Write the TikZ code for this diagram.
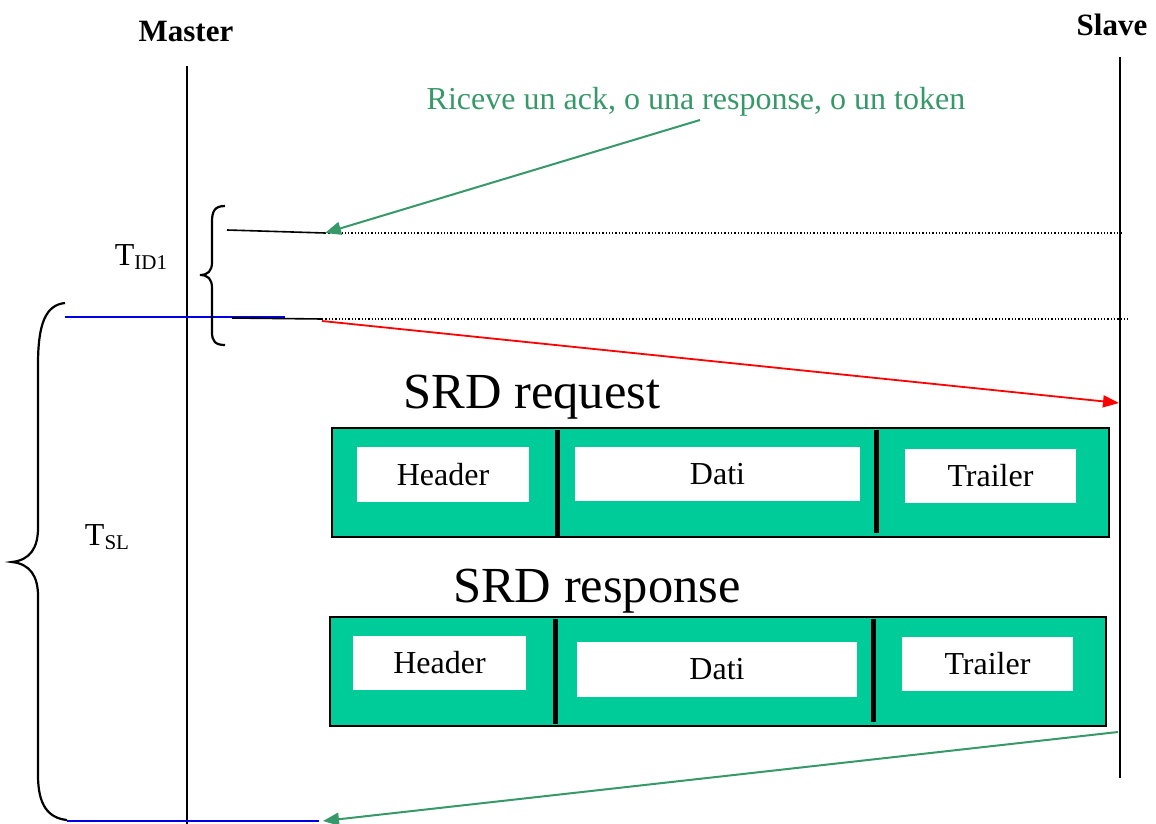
\documentclass[tikz,border=0pt]{standalone}
\usepackage{fontspec}
\setmainfont{Liberation Serif}
\usetikzlibrary{arrows.meta}
\definecolor{framefill}{RGB}{0,204,153}
\definecolor{ackgreen}{RGB}{55,152,105}
\definecolor{tblue}{RGB}{0,0,230}
\begin{document}
\begin{tikzpicture}[x=1pt,y=-1pt,
  lifeline/.style={line width=2.2pt},
  title/.style={inner sep=0pt,font=\fontsize{31}{36}\selectfont\bfseries},
  plain/.style={inner sep=0pt,font=\fontsize{32}{36}\selectfont},
  big/.style={inner sep=0pt,font=\fontsize{50.5}{56}\selectfont},
  frame/.style={draw=black,fill=framefill,line width=2.5pt,inner sep=0pt},
  field/.style={fill=white,inner sep=0pt,font=\fontsize{32}{36}\selectfont},
  divider/.style={line width=5pt},
  tick/.style={line width=1.6pt},
  guide/.style={dotted,line width=1.3pt},
  timeline/.style={tblue,line width=2.2pt},
  brace/.style={line width=2.2pt},
  ack/.style={ackgreen,line width=2pt,-{Triangle[length=16pt,width=13pt]}},
  send/.style={red,line width=1.8pt,-{Triangle[length=16pt,width=12pt]}}]
\useasboundingbox (0,0) rectangle (1156,824);

% lifelines
\node[title] (master) at (186,32) {Master};
\node[title] (slave) at (1112,25) {Slave};
\coordinate (mtop) at (187,66);
\coordinate (mbot) at (187,824);
\coordinate (stop) at (1120,57);
\coordinate (sbot) at (1120,778);
\draw[lifeline] (mtop) -- (mbot);
\draw[lifeline] (stop) -- (sbot);

% idle time marks
\coordinate (idA) at (227,230);
\coordinate (idB) at (325,233);
\coordinate (idC) at (1123,233);
\draw[tick] (idA) -- (idB);
\draw[guide] (idB) -- (idC);

\coordinate (slA) at (65,317);
\coordinate (slB) at (285,317);
\draw[timeline] (slA) -- (slB);
\coordinate (sdA) at (232,318);
\coordinate (sdB) at (322,319);
\coordinate (sdC) at (1128,319);
\draw[tick] (sdA) -- (sdB);
\draw[guide] (sdB) -- (sdC);

\coordinate (slEnd) at (67,821);
\coordinate (slEndR) at (319,821);
\draw[timeline] (slEnd) -- (slEndR);

% braces
\draw[brace] (225,206) .. controls (214,206) and (212,212) .. (212,222)
  -- (212,262) .. controls (212,271) and (208,275) .. (200,275)
  .. controls (208,275) and (212,279) .. (212,288)
  -- (212,332) .. controls (212,341) and (215,345) .. (225,345);
\node[plain] (tid) at (141,257) {T\raisebox{-0.25ex}{\fontsize{21}{21}\selectfont ID1}};

\draw[brace] (65,303) .. controls (45,305) and (38,325) .. (38,365)
  -- (38,528) .. controls (38,548) and (30,560) .. (12,562)
  .. controls (30,564) and (38,576) .. (38,596)
  -- (38,775) .. controls (38,805) and (48,818) .. (67,820);
\node[plain] (tsl) at (107,537) {T\raisebox{-0.25ex}{\fontsize{21}{21}\selectfont SL}};

% messages
\node[plain,text=ackgreen] (note) at (696,102) {Riceve un ack, o una response, o un token};
\coordinate (noteA) at (700,120);
\draw[ack] (noteA) -- (idB);

\coordinate (reqA) at (322,321);
\coordinate (reqB) at (1119,403);
\draw[send] (reqA) -- (reqB);

\coordinate (resA) at (1118,732);
\coordinate (resB) at (323,821);
\draw[ack] (resA) -- (resB);

% SRD request frame
\node[big] (reqlabel) at (532,397) {SRD request};
\node[frame,minimum width=777pt,minimum height=109pt] (req) at (720.5,482.5) {};
\draw[divider] (557,430) -- (557,536);
\draw[divider] (876,430) -- (876,533);
\node[field,minimum width=172pt,minimum height=55pt] (reqh) at (443,474.5) {Header};
\node[field,minimum width=285pt,minimum height=54pt] (reqd) at (717.5,474) {Dati};
\node[field,minimum width=171pt,minimum height=54pt] (reqt) at (990.5,476) {Trailer};

% SRD response frame
\node[big] (reslabel) at (597,591) {SRD response};
\node[frame,minimum width=776pt,minimum height=109pt] (res) at (718,671.5) {};
\draw[divider] (555,619) -- (555,724);
\draw[divider] (873,619) -- (873,722);
\node[field,minimum width=173pt,minimum height=54pt] (resh) at (439.5,663) {Header};
\node[field,minimum width=280pt,minimum height=55pt] (resd) at (717,669.5) {Dati};
\node[field,minimum width=171pt,minimum height=54pt] (rest) at (987.5,664) {Trailer};
\end{tikzpicture}
\end{document}
